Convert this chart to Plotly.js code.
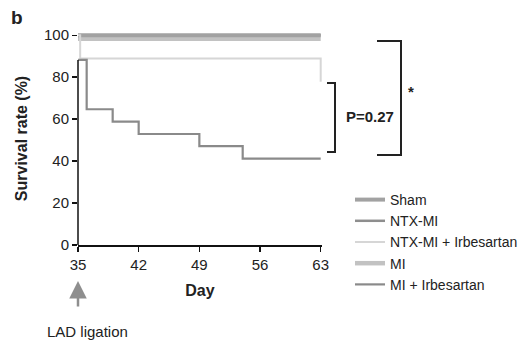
<!DOCTYPE html>
<html>
<head>
<meta charset="utf-8">
<script src="https://cdn.plot.ly/plotly-3.0.1.min.js"></script>
<style>html,body{margin:0;padding:0;background:#fff;}#chart{width:532px;height:344px;}</style>
</head>
<body>
<div id="chart"></div>
<script>
// ---- data ----
var seriesNames = ["Sham", "NTX-MI", "NTX-MI + Irbesartan", "MI", "MI + Irbesartan"];
var shamDays = [35, 63];
var shamSurvival = [100, 100];
var ntxMiDays = [35, 63];
var ntxMiSurvival = [100, 100];
var ntxMiIrbDays = [35, 35.25, 63];
var ntxMiIrbSurvival = [100, 88.9, 77.8];
var miDays = [35, 63];
var miSurvival = [98.3, 98.3];
var miIrbDays = [35, 36, 39, 42, 49, 54, 63];
var miIrbSurvival = [88.2, 64.7, 58.8, 52.9, 47.1, 41.2, 41.2];
var xTicks = [35, 42, 49, 56, 63];
var yTicks = [0, 20, 40, 60, 80, 100];
var pLabel = "P=0.27";
var starLabel = "*";
var eventLabel = "LAD ligation";

// ---- layout geometry ----
var W = 532, H = 344;
var M = {l: 78, r: 210, t: 32, b: 99, autoexpand: false};
var xRange = [35, 63.15], yRange = [0, 101.5];
var pw = W - M.l - M.r, ph = H - M.t - M.b;
function px(x) { return (x - M.l) / pw; }
function py(y) { return (H - M.b - y) / ph; }
function dy(v) { return (v - yRange[0]) / (yRange[1] - yRange[0]); }

var FONT = "Liberation Sans, Arial, sans-serif";
var TXT = "#222";

function tr(name, x, y, color, width, group) {
  return {x: x, y: y, name: name, type: "scatter", mode: "lines",
          line: {shape: "hv", color: color, width: width},
          legendgroup: group, hoverinfo: "skip"};
}
var traces = [
  tr(seriesNames[3], miDays, miSurvival, "#c2c2c2", 4.5, "g4"),
  tr(seriesNames[1], ntxMiDays, ntxMiSurvival, "#8e8e8e", 2.5, "g2"),
  tr(seriesNames[0], shamDays, shamSurvival, "#a2a2a2", 4, "g1"),
  tr(seriesNames[2], ntxMiIrbDays, ntxMiIrbSurvival, "#d6d6d6", 2, "g3"),
  tr(seriesNames[4], miIrbDays, miIrbSurvival, "#8a8a8a", 2.2, "g5")
];
traces[0].legendrank = 4;
traces[1].legendrank = 2;
traces[2].legendrank = 1;
traces[3].legendrank = 3;
traces[4].legendrank = 5;

var axisTop = miIrbSurvival[0];

function bracket(xv, yTop, yBot, xl) {
  return {type: "path", xref: "paper", yref: "paper",
    path: "M" + px(xl) + "," + py(yTop) + " L" + px(xv) + "," + py(yTop) +
          " L" + px(xv) + "," + py(yBot) + " L" + px(xl) + "," + py(yBot),
    line: {color: "#222", width: 2}};
}
function label(x, y, text, size) {
  return {xref: "paper", yref: "paper", x: px(x), y: py(y), xanchor: "center", yanchor: "middle",
          text: text, showarrow: false, font: {family: FONT, size: size, color: TXT}};
}

var layout = {
  width: W, height: H,
  margin: M,
  paper_bgcolor: "#fff", plot_bgcolor: "#fff",
  font: {family: FONT, size: 14, color: TXT},
  showlegend: true,
  legend: {x: px(350), y: py(184), xanchor: "left", yanchor: "top",
           font: {family: FONT, size: 14, color: TXT},
           tracegroupgap: 8, bgcolor: "rgba(0,0,0,0)", traceorder: "normal"},
  xaxis: {range: xRange, tickvals: xTicks, ticks: "outside", ticklen: 5, tickwidth: 1.3,
          tickcolor: "#111", showline: true, linecolor: "#111", linewidth: 1.5,
          showgrid: false, zeroline: false, fixedrange: true,
          tickfont: {family: FONT, size: 15, color: TXT},
          title: {text: "<b>Day</b>", font: {family: FONT, size: 16, color: TXT}, standoff: 13}},
  yaxis: {range: yRange, tickvals: yTicks, ticks: "outside", ticklen: 5, tickwidth: 1.3,
          tickcolor: "#111", showline: false, showgrid: false, zeroline: false, fixedrange: true,
          tickfont: {family: FONT, size: 15, color: TXT},
          title: {text: "<b>Survival rate (%)</b>", font: {family: FONT, size: 16, color: TXT}, standoff: 12}},
  shapes: [
    {type: "line", xref: "paper", yref: "paper", x0: 0, x1: 0, y0: dy(0), y1: dy(axisTop),
     line: {color: "#111", width: 1.5}},
    bracket(335, 83, 152, 327),
    bracket(401, 41, 155, 377)
  ],
  annotations: [
    label(17, 18, "<b>b</b>", 19),
    label(369.5, 116, "<b>" + pLabel + "</b>", 15),
    label(411, 91, "<b>" + starLabel + "</b>", 15),
    {xref: "x", yref: "paper", x: xTicks[0], y: py(281), ax: 0, ay: 27, text: "", showarrow: true,
     arrowhead: 2, arrowsize: 1.4, arrowwidth: 2.5, arrowcolor: "#8e8e8e"},
    label(87, 331, eventLabel, 15)
  ]
};

Plotly.newPlot("chart", traces, layout, {displayModeBar: false, staticPlot: true});
</script>
</body>
</html>
